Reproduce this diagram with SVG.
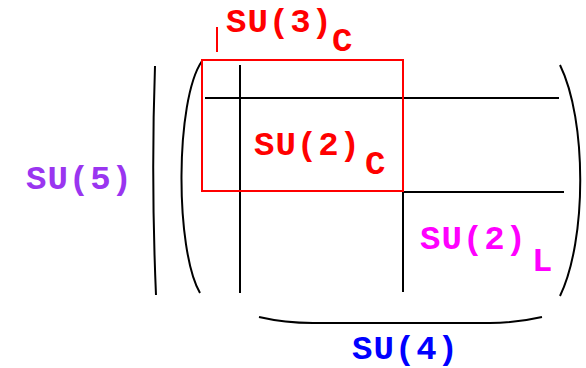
<svg xmlns="http://www.w3.org/2000/svg" width="586" height="368" viewBox="0 0 586 368">
<style>
.t{font-family:"Liberation Mono","Courier New",monospace;font-weight:bold;font-size:34px;letter-spacing:1px}
.ln{stroke:#000;stroke-width:2;fill:none}
.red{fill:#ff0000}
</style>
<rect width="586" height="368" fill="#fff"/>
<g id="connectors">
<path class="ln" d="M155,66 Q151,180 156,295"/>
<path class="ln" d="M202,61 C175,100 175,250 200,293"/>
<path class="ln" d="M560,65 C587,120 587,240 560,296"/>
<path class="ln" d="M259,317 Q285,323 313,323 L490,323 Q516,323 542,317"/>
<line class="ln" x1="205" y1="98" x2="559" y2="98"/>
<line class="ln" x1="403" y1="192" x2="564" y2="192"/>
<line class="ln" x1="240" y1="65" x2="240" y2="293"/>
<line class="ln" x1="403" y1="191" x2="403" y2="292"/>
</g>
<g id="su3c">
<rect x="202" y="60" width="201" height="131" fill="none" stroke="#ff0000" stroke-width="2"/>
<line x1="217" y1="27" x2="217" y2="52" stroke="#ff0000" stroke-width="2"/>
<text class="t red" x="226" y="32">SU(3)</text>
<text class="t red" x="332" y="51">C</text>
</g>
<g id="su2c">
<text class="t red" x="254" y="155">SU(2)</text>
<text class="t red" x="365" y="174">C</text>
</g>
<g id="su5">
<text class="t" fill="#9a35f0" x="26" y="189">SU(5)</text>
</g>
<g id="su2l">
<text class="t" fill="#ff00ff" x="420" y="249">SU(2)</text>
<text class="t" fill="#ff00ff" x="532" y="271">L</text>
</g>
<g id="su4">
<text class="t" fill="#0000ff" x="352" y="359">SU(4)</text>
</g>
</svg>
